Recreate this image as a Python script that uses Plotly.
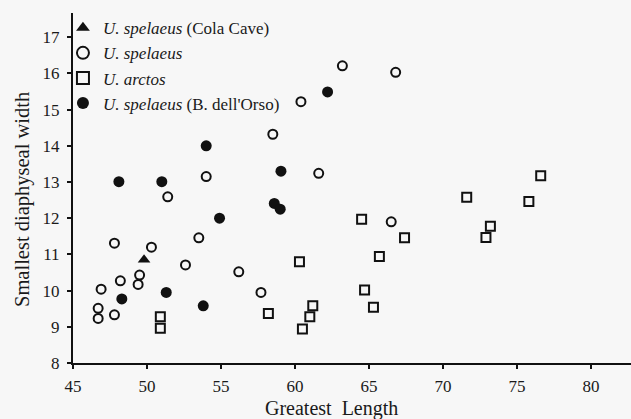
import plotly.graph_objects as go

# Data
cola_x = [49.8]
cola_y = [10.85]

spel_x = [63.2, 66.8, 60.4, 58.5, 61.6, 54.0, 51.4, 66.5, 47.8, 50.3, 53.5,
          52.6, 56.2, 49.5, 49.4, 48.2, 46.9, 46.7, 46.7, 47.8, 57.7]
spel_y = [16.21, 16.03, 15.22, 14.32, 13.24, 13.15, 12.59, 11.90, 11.31, 11.20, 11.46,
          10.71, 10.52, 10.43, 10.17, 10.27, 10.04, 9.51, 9.23, 9.33, 9.95]

arct_x = [50.9, 50.9, 58.2, 60.3, 60.5, 61.0, 61.2, 64.5, 64.7, 65.3, 65.7,
          67.4, 71.6, 72.9, 73.2, 75.8, 76.6]
arct_y = [9.28, 8.96, 9.37, 10.80, 8.94, 9.28, 9.58, 11.97, 10.02, 9.54, 10.94,
          11.46, 12.58, 11.47, 11.78, 12.46, 13.17]

orso_x = [62.2, 54.0, 48.1, 51.0, 59.05, 58.6, 59.0, 54.9, 48.3, 51.3, 53.8]
orso_y = [15.49, 14.00, 13.01, 13.01, 13.30, 12.41, 12.25, 12.00, 9.77, 9.95, 9.58]

x_ticks = [45, 50, 55, 60, 65, 70, 75, 80]
y_ticks = [8, 9, 10, 11, 12, 13, 14, 15, 16, 17]

names = ["<i>U. spelaeus</i> (Cola Cave)", "<i>U. spelaeus</i>",
         "<i>U. arctos</i>", "<i>U. spelaeus</i> (B. dell'Orso)"]

INK = "#111111"
TXT = "#1a1a1a"
BG = "#f7f7f7"

fig = go.Figure()
fig.add_trace(go.Scatter(x=cola_x, y=cola_y, mode="markers", name=names[0],
                         marker=dict(symbol="triangle-up", size=11, color=INK,
                                     line=dict(width=0))))
fig.add_trace(go.Scatter(x=spel_x, y=spel_y, mode="markers", name=names[1],
                         marker=dict(symbol="circle-open", size=9, color=INK,
                                     line=dict(width=2, color=INK))))
fig.add_trace(go.Scatter(x=arct_x, y=arct_y, mode="markers", name=names[2],
                         marker=dict(symbol="square-open", size=9, color=INK,
                                     line=dict(width=2, color=INK))))
fig.add_trace(go.Scatter(x=orso_x, y=orso_y, mode="markers", name=names[3],
                         marker=dict(symbol="circle", size=11, color=INK,
                                     line=dict(width=0))))

axis_common = dict(showgrid=False, zeroline=False, showline=True, linecolor=INK,
                   linewidth=2, ticks="outside", ticklen=4, tickwidth=1.5,
                   tickcolor=INK, tickfont=dict(family="Liberation Serif", size=17,
                                                color=TXT))

fig.update_xaxes(range=[45, 82.7], tickmode="array", tickvals=x_ticks,
                 ticklabelstandoff=3, **axis_common)
fig.update_yaxes(range=[8, 17.67], tickmode="array", tickvals=y_ticks,
                 ticklabelstandoff=4, **axis_common)

fig.update_layout(
    width=631, height=419,
    margin=dict(l=73, r=0, t=13, b=56),
    paper_bgcolor=BG, plot_bgcolor=BG,
    showlegend=True,
    legend=dict(x=-0.018, y=1.008, xanchor="left", yanchor="top",
                bgcolor="rgba(0,0,0,0)", tracegroupgap=0,
                font=dict(family="Liberation Serif", size=17, color=TXT),
                itemsizing="constant"),
    annotations=[
        dict(text="Greatest  Length", xref="paper", yref="paper",
             x=(331 - 73) / 558, y=-(408 - 363) / 350, xanchor="center",
             yanchor="middle", showarrow=False,
             font=dict(family="Liberation Serif", size=20, color=TXT)),
        dict(text="Smallest diaphyseal width", xref="paper", yref="paper",
             x=-(73 - 22) / 558, y=(363 - 200) / 350, xanchor="center",
             yanchor="middle", textangle=-90, showarrow=False,
             font=dict(family="Liberation Serif", size=20.5, color=TXT)),
    ],
)

fig.write_html("out.html")
